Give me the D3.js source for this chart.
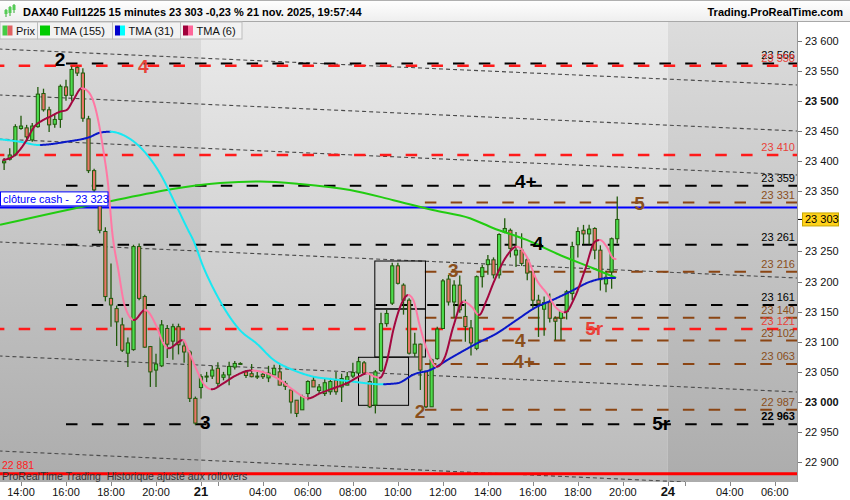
<!DOCTYPE html>
<html><head><meta charset="utf-8">
<script src="https://cdn.jsdelivr.net/npm/d3@7/dist/d3.min.js"></script>
<style>body{margin:0;background:#fff}svg{display:block;font-family:"Liberation Sans",Arial,sans-serif}</style>
</head><body><svg id="c" width="850" height="500"></svg>
<script>
// ---------------- DATA ----------------
const candleOpen  = [23397,23403,23410,23454,23455,23435,23457,23512,23485,23461,23469,23523,23509,23555,23546,23470,23384,23330,23283,23172,23155,23128,23081,23087,23258,23175,23092,23053,23060,23122,23101,23125,23093,23083,23006,
 23024,23043,23043,23056,23041,23045,23058,23064,23050,23047,23043,23046,23040,23045,23050,23031,23020,23003,22987,23014,23036,23019,23014,23017,23036,23025,23028,23043,23048,23065,23034,22995,23052,23130,23164,23226,23194,23169,23081,23096,23050,22992,23072,23122,23204,23166,23194,23142,23123,23089,23208,23228,23236,23211,23282,23285,23244,23252,23236,23216,23169,23154,23166,23139,23139,23150,23180,23261,23285,23279,23288,23252,23196,23216,23271];
const candleHigh  = [23405,23421,23461,23475,23460,23463,23523,23520,23490,23478,23527,23535,23557,23557,23554,23475,23387,23345,23290,23230,23160,23140,23107,23261,23263,23178,23093,23080,23136,23128,23130,23130,23103,23086,23009,
 23046,23050,23060,23066,23050,23067,23068,23066,23053,23063,23050,23052,23060,23062,23062,23035,23020,23003,23012,23036,23043,23030,23040,23040,23050,23047,23050,23065,23073,23068,23048,23053,23148,23153,23231,23231,23197,23172,23115,23097,23052,23072,23125,23204,23211,23202,23210,23170,23136,23210,23228,23244,23240,23280,23305,23288,23282,23280,23240,23218,23178,23175,23180,23142,23150,23186,23266,23290,23294,23294,23290,23260,23218,23273,23341];
const candleLow   = [23385,23401,23408,23452,23432,23432,23455,23482,23448,23455,23455,23500,23500,23541,23465,23380,23343,23280,23167,23125,23093,23083,23058,23085,23169,23090,23025,23025,23058,23073,23070,23079,23065,23000,22962,
 23006,23033,23038,23025,23036,23028,23054,23062,23040,23041,23038,23038,23033,23045,23028,23020,22981,22975,22987,23003,23025,23015,23010,23012,23012,23000,23028,23040,23048,23045,22990,22981,23050,23125,23161,23195,23145,23079,23075,23020,22990,22992,23070,23121,23160,23140,23148,23100,23077,23086,23190,23211,23205,23205,23280,23240,23224,23226,23202,23155,23108,23110,23132,23103,23103,23137,23169,23240,23262,23262,23237,23185,23182,23188,23263];
const candleClose = [23400,23410,23457,23458,23440,23458,23511,23485,23460,23469,23524,23509,23552,23546,23471,23384,23352,23285,23175,23161,23133,23086,23098,23258,23172,23091,23050,23063,23128,23096,23125,23095,23083,23006,22965,
 23042,23043,23053,23031,23045,23059,23064,23064,23044,23042,23042,23042,23048,23056,23028,23026,23000,22981,23009,23034,23025,23025,23032,23034,23017,23039,23042,23049,23067,23048,22992,23050,23130,23147,23226,23197,23169,23081,23096,23053,22992,23070,23121,23201,23166,23194,23153,23125,23098,23208,23223,23236,23211,23278,23288,23255,23252,23230,23214,23169,23163,23165,23139,23134,23150,23183,23258,23283,23279,23287,23252,23203,23207,23271,23303];
const firstCandleIndex = 1;

// moving averages: bar position / value pairs
const tma6Pos = [0.85,2.93,5.01,6.19,7.96,9.16,10.93,12.12,13.3,14.79,15.96,17.16,18.63,19.52,20.18,21.3,22.49,24.09,26.04,28.12,29.3,30.19,32.85,33.74,35.24,36.41,37.9,39.96,42.04,44.89,47.68,50.04,52.41,55.08,57.16,59.52,61.9,64.27,65.46,66.93,67.82,69.01,70.19,71.68,72.85,73.74,74.93,76.41,77.9,79.38,80.85,82.63,84.12,85.42,86.79,87.96,90.35,92.12,93.9,95.68,97.46,99.24,100.71,102.49,104.27,106.04,106.93,108.12,109.3,109.69];
const tma6Val = [23401.7,23410,23434.9,23454.8,23468.1,23473.5,23481.8,23484.7,23501.2,23520.7,23515,23490.1,23418.3,23357.4,23285.5,23219.1,23158.2,23136.1,23152.7,23125,23097.4,23089.1,23102.9,23086.3,23053.1,23031,23021.1,23031,23043.2,23052.3,23047.6,23036.5,23019.9,23006.1,23014.4,23022.7,23031,23043.2,23047.6,23042,23040.3,23066.4,23119.5,23163.8,23177.6,23169.3,23125,23080.8,23058.6,23075.2,23125,23166.5,23158.2,23144.4,23169.3,23197,23242.3,23257.8,23241.2,23202.5,23180.4,23155.5,23148.9,23174.8,23219.1,23266.1,23268.9,23257.8,23238.5,23237.3];
const tma31Pos = [0.27,3.82,7.08,12.12,16.27,18.04,19.82,22.8,25.7,28.7,31.7,33.7,34.6,36.4,38.8,42.9,45.9,48.9,52.4,56,59.5,63.1,65.5,67.8,70.8,74,76.7,80.3,85,88.6,92.1,95.7,98.1,101.6,105.2,107.5,109.6];
const tma31Val = [23436,23432,23426.6,23432,23440,23447,23448.6,23440,23418,23379.6,23324,23285.5,23269,23224.6,23177.6,23119.5,23097,23070,23053,23042,23037.7,23033.7,23031,23029.4,23031,23046.5,23053,23072.5,23097,23114,23136,23158,23167.6,23183,23199.7,23205,23206];
const tma155Pos = [0.27,18.04,39.4,46.5,53.6,62.5,70.2,77.2,83.8,87.9,93.9,99.8,105.7,109.8];
const tma155Val = [23294,23330,23363.5,23366,23362,23352,23335,23318.6,23305,23288.8,23269,23244,23222,23206];

// horizontal levels
const levelValues = [23562,23558,23410,23359,23331,23261,23216,23161,23140,23121,23102,23063,22987,22963];
const levelKinds  = ["black","red","red","black","brown","black","brown","black","brown","red","brown","brown","brown","black"];
const levelLabels = ["23 566","23 558","23 410","23 359","23 331","23 261","23 216","23 161","23 140","23 121","23 102","23 063","22 987","22 963"];
const levelStartByKind = {black:12, red:-1, brown:75.8};

// sloping channel lines (value at bar 0 and at bar 142)
const channelStart = [23585.9,23509.6,23436.5,23265.6,23076.4,22918.7];
const channelEnd   = [23526.2,23449.8,23376.8,23205.8,23016.6,22858.9];
const channelEndBar = [142,142,142,142,142,122];

// boxes [bar0, bar1, valTop, valBottom]
const boxBar0 = [66.9,66.9,64.0];
const boxBar1 = [75.9,75.9,72.9];
const boxTop  = [23234,23154.4,23074.2];
const boxBot  = [23154.4,23074.7,22994.5];

// wave labels
const waveText  = ["2","4","3","4+","4","3","2","4","4+","5","5r","5r"];
const waveBar   = [10.0,24.8,35.8,91.8,94.97,79.9,74.0,91.8,91.5,113,104.3,116.2];
const waveVal   = [23558.5,23546,22955,23355,23252,23207.5,22973,23091,23056,23318.7,23111,22953.5];
const waveColor = ["black","red","black","black","black","brown","brown","brown","brown","brown","red","black"];

const closeCash = 23323, lastPrice = 23303, rolloverLevel = 22881;
const yTicks = [23600,23550,23500,23450,23400,23350,23250,23200,23150,23100,23050,23000,22950,22900];
const yTickLabels = ["23 600","23 550","23 500","23 450","23 400","23 350","23 250","23 200","23 150","23 100","23 050","23 000","22 950","22 900"];
const tickDays  = [20,20,20,20,21,21,21,21,21,21,21,21,21,21,21,24,24,24,24];
const tickTimes = ["14:00","16:00","18:00","20:00","01:15","02:00","04:00","06:00","08:00","10:00","12:00","14:00","16:00","18:00","20:00","01:15","02:00","04:00","06:00"];
const tickLabels= ["14:00","16:00","18:00","20:00","21","","04:00","06:00","08:00","10:00","12:00","14:00","16:00","18:00","20:00","24","","04:00","06:00"];

// ---------------- HELPERS ----------------
function barIndex(day, t){
  const [h,m]=t.split(":").map(Number); const mins=h*60+m;
  if(day===20) return (mins-780)/15;
  if(day===21) return 36+(mins-75)/15;
  return 119+(mins-75)/15;
}
const colors = {black:"#000", red:"#ff1a1a", brown:"#8b4513"};
const textColors = {black:"#000", red:"#e8433a", brown:"#8a4f1c"};

const svg = d3.select("#c");
const plotL=0, plotR=797, plotT=22, plotB=482;
const x = d3.scaleLinear().domain([0,142]).range([-1.5,-1.5+142*5.625]);
const y = d3.scaleLinear().domain([23000,23600]).range([402,40.5]);

const defs = svg.append("defs");
defs.append("clipPath").attr("id","clip").append("rect").attr("x",plotL).attr("y",plotT).attr("width",plotR-plotL).attr("height",plotB-plotT);
function grad(id, c1, c2){
  const g=defs.append("linearGradient").attr("id",id).attr("x1",0).attr("y1",0).attr("x2",0).attr("y2",1);
  g.append("stop").attr("offset","0%").attr("stop-color",c1);
  g.append("stop").attr("offset","100%").attr("stop-color",c2);
}
grad("gDark","#dcdcdc","#acacac");
grad("gLight","#ebebeb","#bababa");
grad("gTitle","#ffffff","#eeeeee");

// ---------------- BACKGROUND ----------------
svg.append("rect").attr("x",0).attr("y",0).attr("width",850).attr("height",500).attr("fill","#fff");
const plot = svg.append("g").attr("clip-path","url(#clip)");
const dayStart21 = barIndex(21,"01:15"), dayStart24 = barIndex(24,"01:15");
const sessions = [[-2,dayStart21,"gDark"],[dayStart21,dayStart24,"gLight"],[dayStart24,150,"gDark"]];
sessions.forEach(s=>{
  plot.append("rect").attr("x",x(s[0])).attr("y",plotT).attr("width",x(s[1])-x(s[0])).attr("height",plotB-plotT).attr("fill",`url(#${s[2]})`);
});

// channel lines
channelStart.forEach((v,k)=>{
  plot.append("line").attr("x1",x(0)).attr("y1",y(v)).attr("x2",x(channelEndBar[k])).attr("y2",y(v+(channelEnd[k]-v)*channelEndBar[k]/142))
    .attr("stroke","#4a4a4a").attr("stroke-width",1.1).attr("stroke-dasharray","4,3");
});

// levels
levelValues.forEach((v,k)=>{
  const kind=levelKinds[k];
  plot.append("line").attr("x1",x(levelStartByKind[kind])).attr("x2",plotR).attr("y1",y(v)).attr("y2",y(v))
    .attr("stroke",colors[kind]).attr("stroke-width",kind==="red"?2.5:2).attr("stroke-dasharray","11.5,14.3");
});
// rollover line
plot.append("line").attr("x1",plotL).attr("x2",plotR).attr("y1",y(rolloverLevel)).attr("y2",y(rolloverLevel)).attr("stroke","#ff0000").attr("stroke-width",3);
// close cash line
plot.append("line").attr("x1",plotL).attr("x2",plotR).attr("y1",y(closeCash)).attr("y2",y(closeCash)).attr("stroke","#0000ff").attr("stroke-width",2);

// boxes
boxBar0.forEach((b,k)=>{
  plot.append("rect").attr("x",x(b)).attr("y",y(boxTop[k])).attr("width",x(boxBar1[k])-x(b)).attr("height",y(boxBot[k])-y(boxTop[k]))
    .attr("fill","none").attr("stroke","#000").attr("stroke-width",1);
});

// candles
const cg = plot.append("g");
candleOpen.forEach((o,k)=>{
  const i=firstCandleIndex+k, c=candleClose[k], h=candleHigh[k], l=candleLow[k];
  const cx=x(i);
  cg.append("line").attr("x1",cx).attr("x2",cx).attr("y1",y(h)).attr("y2",y(l)).attr("stroke","#215a0c").attr("stroke-width",1.3);
  const top=y(Math.max(o,c)), bot=y(Math.min(o,c));
  cg.append("rect").attr("x",cx-1.6).attr("y",top).attr("width",3.2).attr("height",Math.max(bot-top,1))
    .attr("fill", c>=o?"#4cdc4c":"#ea7468").attr("stroke","#215a0c").attr("stroke-width",1);
});

// moving averages
function samplePath(pos, val){
  const pts=pos.map((p,k)=>[x(p),y(val[k])]);
  const tmp=plot.append("path").attr("d",d3.line().curve(d3.curveMonotoneX)(pts)).attr("fill","none");
  const node=tmp.node(), L=node.getTotalLength(), out=[];
  for(let s=0;s<=L;s+=0.7){const p=node.getPointAtLength(s); out.push([p.x,p.y]);}
  const e=node.getPointAtLength(L); out.push([e.x,e.y]);
  tmp.remove(); return out;
}
function twoTone(pos,val,upC,downC,w){
  const s=samplePath(pos,val); let runs=[], cur=null, col=null;
  for(let k=1;k<s.length;k++){
    const dy=s[k][1]-s[k-1][1];
    let c = dy<-0.02?upC:(dy>0.02?downC:(col||upC));
    if(c!==col){ if(cur) runs.push([col,cur]); cur=[s[k-1]]; col=c; }
    cur.push(s[k]);
  }
  if(cur) runs.push([col,cur]);
  runs.forEach(r=>plot.append("path").attr("d",d3.line()(r[1])).attr("fill","none").attr("stroke",r[0]).attr("stroke-width",w).attr("stroke-linejoin","round").attr("stroke-linecap","round"));
}
plot.append("path").attr("d",d3.line().curve(d3.curveMonotoneX)(tma155Pos.map((p,k)=>[x(p),y(tma155Val[k])])))
  .attr("fill","none").attr("stroke","#22cc11").attr("stroke-width",2);
twoTone(tma31Pos,tma31Val,"#0a18c8","#18e8f2",2);
twoTone(tma6Pos,tma6Val,"#a3073f","#ff78a4",2);

// wave labels
waveText.forEach((t,k)=>{
  plot.append("text").attr("x",x(waveBar[k])).attr("y",y(waveVal[k])).text(t)
    .attr("font-size",19).attr("font-weight","bold").attr("fill",textColors[waveColor[k]]);
});

// level labels
levelValues.forEach((v,k)=>{
  plot.append("text").attr("x",795).attr("y",y(v)-4).attr("text-anchor","end").text(levelLabels[k])
    .attr("font-size",11).attr("fill",textColors[levelKinds[k]]).attr("font-weight",levelLabels[k]==="22 963"?"bold":"normal");
});

// close cash label
svg.append("rect").attr("x",0.5).attr("y",y(closeCash)-15.5).attr("width",107.5).attr("height",14).attr("fill","#fff").attr("stroke","#0000ff").attr("stroke-width",1);
svg.append("text").attr("x",3).attr("y",y(closeCash)-4.5).text("clôture cash -  23 323").style("white-space","pre").attr("font-size",11).attr("fill","#0000ff");
// rollover labels
svg.append("text").attr("x",2).attr("y",y(rolloverLevel)-4.5).text("22 881").attr("font-size",10.5).attr("fill","#ff2020");
svg.append("text").attr("x",2).attr("y",479.5).text("ProRealTime Trading  Historique ajusté aux rollovers").style("white-space","pre").attr("font-size",10.5).attr("fill","#333");

// ---------------- AXES ----------------
svg.append("rect").attr("x",plotR).attr("y",plotT).attr("width",850-plotR).attr("height",500-plotT).attr("fill","#fff");
svg.append("rect").attr("x",0).attr("y",plotB).attr("width",850).attr("height",500-plotB).attr("fill","#fff");
svg.append("line").attr("x1",plotR+0.5).attr("x2",plotR+0.5).attr("y1",plotT).attr("y2",plotB).attr("stroke","#9a9a9a");
const ya = svg.append("g");
yTicks.forEach((v,k)=>{
  ya.append("line").attr("x1",plotR+1).attr("x2",plotR+5).attr("y1",Math.round(y(v))+0.5).attr("y2",Math.round(y(v))+0.5).attr("stroke","#777");
  ya.append("text").attr("x",805).attr("y",y(v)+4).text(yTickLabels[k]).attr("font-size",11).attr("fill","#111")
    .attr("font-weight",(v%500===0)?"bold":"normal");
});
// last price marker
ya.append("line").attr("x1",plotR+1).attr("x2",plotR+5).attr("y1",y(lastPrice)).attr("y2",y(lastPrice)).attr("stroke","#000");
ya.append("rect").attr("x",802.5).attr("y",y(lastPrice)-6.5).attr("width",36).attr("height",13).attr("fill","#ffd21a").attr("stroke","#c8a800");
ya.append("text").attr("x",805).attr("y",y(lastPrice)+4).text("23 303").attr("font-size",11).attr("fill","#000");

const xa = svg.append("g");
tickTimes.forEach((t,k)=>{
  const px=x(barIndex(tickDays[k],t));
  xa.append("line").attr("x1",Math.round(px)+0.5).attr("x2",Math.round(px)+0.5).attr("y1",plotB).attr("y2",plotB+4).attr("stroke","#888");
  if(tickLabels[k]) xa.append("text").attr("x",px).attr("y",496).attr("text-anchor","middle").text(tickLabels[k])
    .attr("font-size",tickLabels[k].length<3?13:11).attr("font-weight",tickLabels[k].length<3?"bold":"normal").attr("fill","#111");
});

// ---------------- TITLE & LEGEND ----------------
svg.append("rect").attr("x",0).attr("y",0).attr("width",850).attr("height",21.5).attr("fill","url(#gTitle)");
svg.append("line").attr("x1",0).attr("x2",850).attr("y1",0.5).attr("y2",0.5).attr("stroke","#b0b0b0");
svg.append("line").attr("x1",0).attr("x2",850).attr("y1",21.5).attr("y2",21.5).attr("stroke","#a8a8a8");
// icon
[[6,9,13,"#3a3"],[10,6,12,"#3a3"],[14,4,9,"#3a3"]].forEach(c=>{
  svg.append("line").attr("x1",c[0]).attr("x2",c[0]).attr("y1",c[1]).attr("y2",c[2]+4).attr("stroke","#3a3").attr("stroke-width",1);
  svg.append("rect").attr("x",c[0]-1.5).attr("y",c[1]+1).attr("width",3).attr("height",c[2]-c[1]).attr("fill","#5c5");
});
svg.append("text").attr("x",23).attr("y",15.5).text("DAX40 Full1225 15 minutes 23 303 -0,23 % 21 nov. 2025, 19:57:44")
  .attr("font-size",11).attr("font-weight","bold").attr("fill","#000");
svg.append("text").attr("x",843).attr("y",15.5).attr("text-anchor","end").text("Trading.ProRealTime.com")
  .attr("font-size",11).attr("font-weight","bold").attr("fill","#000");

const legendItems = ["Prix","TMA (155)","TMA (31)","TMA (6)"];
const legendColA = ["#44cc44","#00cc00","#0000cc","#a0003a"];
const legendColB = ["#e06060","#00cc00","#00ffff","#ff6699"];
const legendX = [0,37.5,112.5,180.5,242];
legendItems.forEach((t,k)=>{
  const x0=legendX[k], x1=legendX[k+1];
  svg.append("rect").attr("x",x0).attr("y",22).attr("width",x1-x0).attr("height",17).attr("fill","#f2f2f2").attr("stroke","#bdbdbd").attr("stroke-width",1);
  svg.append("rect").attr("x",x0+2.5).attr("y",25.5).attr("width",5).attr("height",10).attr("fill",legendColA[k]);
  svg.append("rect").attr("x",x0+7.5).attr("y",25.5).attr("width",5).attr("height",10).attr("fill",legendColB[k]);
  svg.append("text").attr("x",x0+16).attr("y",34.5).text(t).attr("font-size",11).attr("fill","#111");
});
</script></body></html>
